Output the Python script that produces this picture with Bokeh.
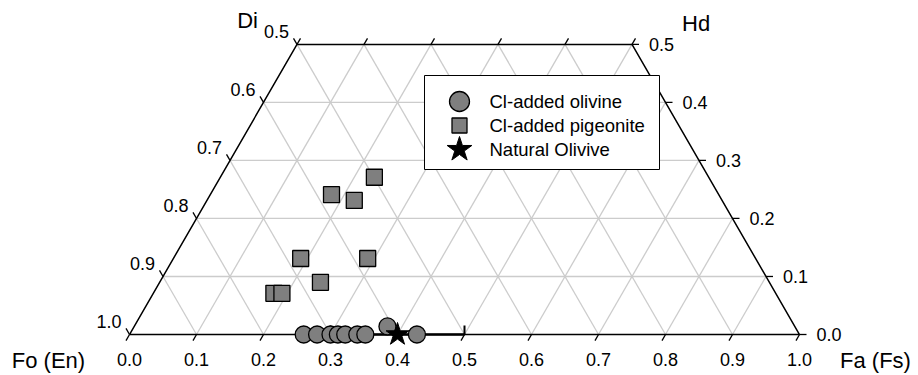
import math
from bokeh.plotting import figure
from bokeh.models import Range1d, ColumnDataSource
from bokeh.core.properties import value
from bokeh.embed import file_html
from bokeh.resources import INLINE

# ---------------- data (Fs / Fa fraction and Wo fraction) ----------------
olivine_fs = [0.260, 0.280, 0.300, 0.311, 0.322, 0.340, 0.352, 0.378, 0.429]
olivine_wo = [0.000, 0.000, 0.000, 0.000, 0.000, 0.000, 0.000, 0.014, 0.000]

pigeonite_fs = [0.230, 0.181, 0.220, 0.190, 0.290, 0.240, 0.180, 0.192]
pigeonite_wo = [0.271, 0.241, 0.231, 0.131, 0.131, 0.090, 0.071, 0.071]

natural_fs = [0.40]
natural_wo = [0.0]

range_fs = [0.30, 0.50]   # natural olivine range bar
range_wo = [0.0, 0.0]

series_labels = ["Cl-added olivine", "Cl-added pigeonite", "Natural Olivive"]

fs_ticks = [0.0, 0.1, 0.2, 0.3, 0.4, 0.5, 0.6, 0.7, 0.8, 0.9, 1.0]
fs_labels = ["0.0", "0.1", "0.2", "0.3", "0.4", "0.5", "0.6", "0.7", "0.8", "0.9", "1.0"]
wo_ticks = [0.0, 0.1, 0.2, 0.3, 0.4, 0.5]
en_labels = ["1.0", "0.9", "0.8", "0.7", "0.6", "0.5"]
wo_labels = ["0.0", "0.1", "0.2", "0.3", "0.4", "0.5"]
top_fs_ticks = [0.0, 0.1, 0.2, 0.3, 0.4, 0.5]
corner_labels = ["Fo (En)", "Fa (Fs)", "Di", "Hd"]
WO_MAX = 0.5

S3 = math.sqrt(3) / 2.0
SCALE = 670.0          # pixels per unit
X0_PX, Y0_PX = 129, 334  # pixel position of the Fo corner
W, H = 918, 375


def tx(fs, wo):
    return fs + wo / 2.0


def ty(wo):
    return wo * S3


def px2x(px):
    return (px - X0_PX) / SCALE


def py2y(py):
    return (Y0_PX - py) / SCALE


FONT = "Liberation Sans"
GRID = "#cccccc"
FILL = "#7f7f7f"

p = figure(width=W, height=H,
           x_range=Range1d(px2x(0), px2x(W)),
           y_range=Range1d(py2y(H), py2y(0)),
           output_backend="svg", toolbar_location=None,
           min_border=0, x_axis_location=None, y_axis_location=None)
p.outline_line_color = None
p.xgrid.visible = False
p.ygrid.visible = False
p.background_fill_color = "white"
p.border_fill_color = "white"

# ---------------- grid lines ----------------
gx0, gy0, gx1, gy1 = [], [], [], []
for f in fs_ticks[1:-1]:
    # constant Fs
    w_end = min(WO_MAX, 1 - f)
    gx0.append(tx(f, 0)); gy0.append(ty(0))
    gx1.append(tx(f, w_end)); gy1.append(ty(w_end))
    # constant En
    e = f
    w_end = min(WO_MAX, 1 - e)
    gx0.append(tx(1 - e, 0)); gy0.append(ty(0))
    gx1.append(tx(1 - e - w_end, w_end)); gy1.append(ty(w_end))
for w in wo_ticks[1:-1]:
    gx0.append(tx(0, w)); gy0.append(ty(w))
    gx1.append(tx(1 - w, w)); gy1.append(ty(w))
p.segment(gx0, gy0, gx1, gy1, line_color=GRID, line_width=1.3)

# ---------------- outline ----------------
ox = [tx(0, 0), tx(1, 0), tx(1 - WO_MAX, WO_MAX), tx(0, WO_MAX), tx(0, 0)]
oy = [ty(0), ty(0), ty(WO_MAX), ty(WO_MAX), ty(0)]
p.line(ox, oy, line_color="black", line_width=1.5)

# ---------------- ticks ----------------
L = 7 / SCALE
tx0, ty0, tx1, ty1 = [], [], [], []
for f in fs_ticks:  # bottom, down-left
    x0, y0 = tx(f, 0), ty(0)
    tx0.append(x0); ty0.append(y0); tx1.append(x0 - 0.5 * L); ty1.append(y0 - S3 * L)
for w in wo_ticks:  # left, up-left
    x0, y0 = tx(0, w), ty(w)
    tx0.append(x0); ty0.append(y0); tx1.append(x0 - 0.5 * L); ty1.append(y0 + S3 * L)
for w in wo_ticks:  # right, horizontal
    x0, y0 = tx(1 - w, w), ty(w)
    tx0.append(x0); ty0.append(y0); tx1.append(x0 + L); ty1.append(y0)
for f in top_fs_ticks:  # top, up-right
    x0, y0 = tx(f, WO_MAX), ty(WO_MAX)
    tx0.append(x0); ty0.append(y0); tx1.append(x0 + 0.5 * L); ty1.append(y0 + S3 * L)
p.segment(tx0, ty0, tx1, ty1, line_color="black", line_width=1.3)

# ---------------- tick labels ----------------
p.text(x=[tx(f, 0) for f in fs_ticks], y=[ty(0)] * len(fs_ticks), text=fs_labels,
       text_align="center", text_baseline="middle", y_offset=25,
       text_font=value(FONT), text_font_size="18px", text_color="black")
p.text(x=[tx(0, w) for w in wo_ticks], y=[ty(w) for w in wo_ticks], text=en_labels,
       text_align="right", text_baseline="middle", x_offset=-8, y_offset=-13,
       text_font=value(FONT), text_font_size="18px", text_color="black")
p.text(x=[tx(1 - w, w) for w in wo_ticks], y=[ty(w) for w in wo_ticks], text=wo_labels,
       text_align="left", text_baseline="middle", x_offset=17, y_offset=0,
       text_font=value(FONT), text_font_size="18px", text_color="black")

# corner labels
p.text(x=[tx(0, 0)], y=[ty(0)], text=[corner_labels[0]], text_align="center", text_baseline="middle",
       x_offset=-81, y_offset=26, text_font=value(FONT), text_font_size="22px", text_color="black")
p.text(x=[tx(1, 0)], y=[ty(0)], text=[corner_labels[1]], text_align="center", text_baseline="middle",
       x_offset=76, y_offset=26, text_font=value(FONT), text_font_size="22px", text_color="black")
p.text(x=[tx(0, WO_MAX)], y=[ty(WO_MAX)], text=[corner_labels[2]], text_align="right", text_baseline="middle",
       x_offset=-39, y_offset=-24, text_font=value(FONT), text_font_size="22px", text_color="black")
p.text(x=[tx(1 - WO_MAX, WO_MAX)], y=[ty(WO_MAX)], text=[corner_labels[3]], text_align="left",
       text_baseline="middle", x_offset=50, y_offset=-21, text_font=value(FONT), text_font_size="22px",
       text_color="black")

# ---------------- natural olivine range bar ----------------
rx = [tx(f, w) for f, w in zip(range_fs, range_wo)]
ry = [ty(w) for w in range_wo]
p.line(rx, ry, line_color="black", line_width=2.5)
cap = 9 / SCALE
p.segment(rx, ry, rx, [y + cap for y in ry], line_color="black", line_width=2)

# ---------------- data points ----------------
src_ol = ColumnDataSource(dict(x=[tx(f, w) for f, w in zip(olivine_fs, olivine_wo)],
                               y=[ty(w) for w in olivine_wo]))
src_pg = ColumnDataSource(dict(x=[tx(f, w) for f, w in zip(pigeonite_fs, pigeonite_wo)],
                               y=[ty(w) for w in pigeonite_wo]))
src_nt = ColumnDataSource(dict(x=[tx(f, w) for f, w in zip(natural_fs, natural_wo)],
                               y=[ty(w) for w in natural_wo]))

p.scatter("x", "y", source=src_ol, marker="circle", size=17,
          fill_color=FILL, line_color="black", line_width=1.3)
p.scatter("x", "y", source=src_pg, marker="square", size=16,
          fill_color=FILL, line_color="black", line_width=1.3)
p.scatter("x", "y", source=src_nt, marker="star", size=24,
          fill_color="black", line_color="black", line_width=1)

# ---------------- legend box (drawn on top) ----------------
LEG_L, LEG_R, LEG_T, LEG_B = 424, 659, 75, 169   # pixels
p.quad(left=[px2x(LEG_L)], right=[px2x(LEG_R)], top=[py2y(LEG_T)], bottom=[py2y(LEG_B)],
       fill_color="white", line_color="black", line_width=1)
leg_rows_px = [101, 125, 149]
leg_gx = px2x(459)
leg_ty = [py2y(v) for v in leg_rows_px]
p.scatter([leg_gx], [leg_ty[0]], marker="circle", size=20,
          fill_color=FILL, line_color="black", line_width=1.3)
p.scatter([leg_gx], [leg_ty[1]], marker="square", size=15,
          fill_color=FILL, line_color="black", line_width=1.3)
p.scatter([leg_gx], [leg_ty[2]], marker="star", size=26,
          fill_color="black", line_color="black", line_width=1)
p.text(x=[px2x(489)] * 3, y=leg_ty, text=series_labels,
       text_align="left", text_baseline="middle",
       text_font=value(FONT), text_font_size="18.5px", text_color="black")

open("out.html", "w").write(file_html(p, INLINE))
